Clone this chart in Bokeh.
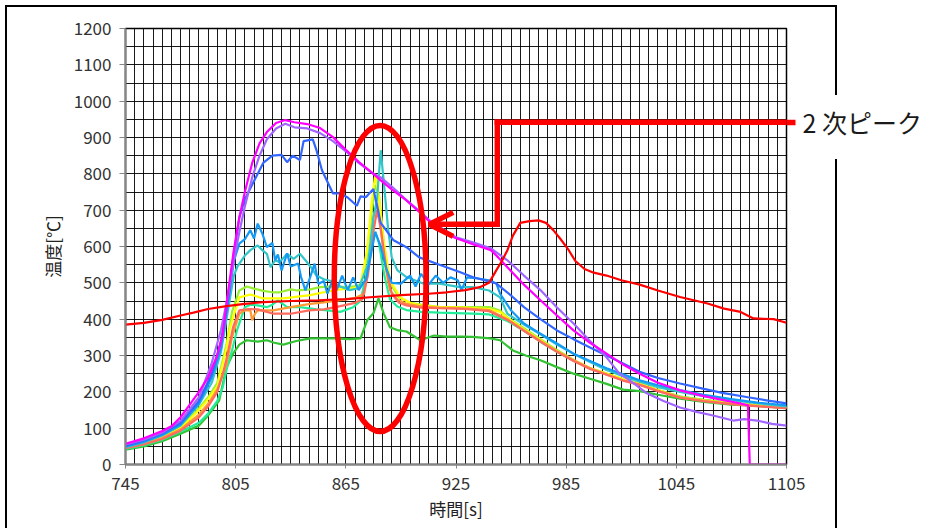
from bokeh.plotting import figure
from bokeh.models import FixedTicker, Arrow, OpenHead, Range1d, LinearAxis, InlineStyleSheet
from bokeh.embed import file_html
from bokeh.resources import INLINE

# ---------------- data (time [s], temperature [°C]) ----------------
red_t = [745,755,765,775,782,790,800,810,820,835,850,865,880,895,910,920,930,938,943,947,950,953,956,960,965,970,974,978,982,986,990,995,1000,1007,1015,1025,1035,1047,1062,1071,1080,1087,1098,1105]
red_v = [385,390,398,410,418,428,436,442,447,450,452,455,461,466,470,474,480,488,500,535,560,590,630,665,670,672,665,645,620,593,560,538,528,520,507,495,479,461,443,429,420,402,400,390]

magenta_t = [745,755,765,770,775,780,785,790,795,798,801,804,807,810,814,818,822,827,832,837,844,851,858,865,872,880,884,890,898,905,911,918,924,935,944,948,953,962,971,980,989,998,1007,1016,1025,1035,1047,1060,1070,1080,1084,1085,1105]
magenta_v = [57,72,92,105,130,165,200,240,300,360,480,590,680,750,830,884,915,940,948,942,937,926,901,866,833,800,782,757,727,695,667,645,625,605,590,570,543,495,452,410,369,335,305,275,250,225,204,188,178,168,163,0,0]

purple_t = [745,755,765,775,785,792,797,801,804,807,810,814,818,822,827,832,837,844,851,858,865,872,880,884,890,898,905,911,918,925,935,944,953,962,971,980,989,998,1007,1014,1020,1029,1038,1047,1056,1065,1076,1082,1089,1097,1105]
purple_v = [55,68,88,120,185,280,370,470,560,640,710,790,850,895,925,938,928,925,912,890,862,830,800,790,765,728,698,670,648,625,610,595,562,520,480,432,388,340,295,250,230,196,175,157,145,135,121,125,121,112,107]

blue_t = [745,755,765,775,785,792,797,801,804,807,810,815,820,825,830,833,836,840,842,847,849,852,858,862,866,871,873,876,880,884,891,898,905,916,927,934,947,955,962,971,980,989,998,1007,1016,1025,1035,1047,1060,1070,1084,1095,1105]
blue_v = [52,66,86,115,175,250,340,460,580,680,730,780,830,850,852,832,850,838,890,895,865,810,746,746,735,712,738,736,758,665,617,598,570,550,530,516,498,465,433,400,369,345,322,300,278,255,238,223,208,197,185,176,168]

lightblue_t = [745,755,765,775,785,792,797,801,804,807,810,813,815,817,819.5,822,825,826.5,828,830,833,835,839,840.6,843,845.6,848,850,853,855,858,860,863,866,869,872,876,878,881,884,887,890,895,900,903,906,910,914,918,922,926,928,931,937,943,947,949,955,962,971,980,989,998,1007,1016,1025,1035,1047,1060,1075,1090,1105]
lightblue_v = [50,63,82,110,168,240,320,450,560,608,620,645,622,663,636,598,610,562,578,534,581,545,553,516,479,516,553,497,505,470,510,480,520,480,515,480,510,560,640,600,540,500,498,520,490,525,495,520,500,515,507,480,515,512,507,498,470,424,388,360,333,305,285,265,248,232,218,205,192,180,170,163]

teal_t = [745,755,765,775,785,792,797,801,804,806,810,813,817,819.5,822,824,826.5,829,833,836.6,840,843,846,849,853,857,862,867,872,877,880,882,884,886,888,890,893,898,907,916,927,934,943,949,953,962,971,980,989,998,1007,1016,1025,1035,1047,1060,1075,1090,1105]
teal_v = [48,61,80,107,165,225,310,430,520,545,575,590,603,590,580,543,562,557,580,566,580,562,543,520,510,505,490,480,485,550,680,730,865,760,650,570,535,516,498,498,488,488,479,460,415,385,358,330,305,282,260,243,228,213,200,188,177,168,160]

ygreen_t = [745,755,765,775,785,790,795,800,803,807,811,815,820,825,829,835,838.5,845.6,851,858,865,870,873,876,879,881,883,886,889,894,900,906,916,930,943.6,949,953,962,971,980,989,998,1007,1016,1025,1035,1047,1060,1075,1090,1105]
ygreen_v = [48,60,78,103,155,185,225,330,420,479,490,484,478,474,474,482,479,482,488,490,488,490,495,560,690,770,740,600,500,460,445,440,433,433,433,424,405,375,345,315,288,265,250,235,222,205,187,178,170,163,157]

yellow_t = [745,755,765,775,785,790,795,800,802,807,813,820,831,845.6,853,862,868,872.7,876.6,879,881,883,885.5,889,894.6,900,905.6,916.6,930,943,949,953,962,971,980,989,998,1007,1016,1025,1035,1047,1060,1075,1090,1105]
yellow_v = [48,58,75,100,150,180,215,320,378,460,468,457,457,466,474,482,485,488,590,720,796,740,617,507,460,445,438,433,432,428,420,403,372,342,312,287,265,250,235,222,205,185,176,168,162,157]

orange_t = [745,755,765,775,785,790,795,800,803,807,810,813,814,815.5,817,825.5,835,845.6,853,862,870,875,878,880,882,884,886,889,893,898,906,916,930,943,953,962,971,980,989,998,1007,1016,1025,1035,1047,1060,1075,1090,1105]
orange_v = [47,57,73,97,137,167,207,275,350,415,425,424,397,415,424,424,433,442,446,452,458,470,570,680,720,650,560,480,455,442,435,432,430,425,400,370,340,312,287,265,248,232,220,203,185,175,167,161,156]

salmon_t = [745,755,765,775,785,790,795,798,800,803.6,807,812,817,825.6,835,845,853,862,870,874,877,880,882,884,887,890,894,898,906,916,930,943,953,962,971,980,989,998,1007,1016,1025,1035,1047,1060,1075,1090,1105]
salmon_v = [45,55,70,93,130,160,200,250,290,378,424,428,427,415,415,424,427,436,445,455,520,640,700,650,540,470,445,438,432,430,428,422,398,368,338,310,285,263,247,231,219,202,184,174,166,160,155]

spring_t = [745,755,765,775,785,790,795,798,800,803,805.7,810,813,817,822,825,828,833,840,849,855,862,869,873,876,879,881,883,886,889,893,898,906,916,934,943,953,962,971,980,989,998,1007,1016,1025,1035,1047,1060,1075,1090,1105]
spring_v = [43,53,68,90,115,140,175,213,260,314,369,433,440,438,433,440,452,433,433,427,424,420,433,450,520,600,640,610,520,455,435,425,420,418,415,413,395,368,338,310,286,265,249,233,221,204,187,177,168,162,157]

green_t = [745,755,765,775,785,790,796,800,803.6,807,811,817,822,826,831,838,845.6,852,858,867,873,876.6,880,882.8,885.6,889,893,898,905.6,913,920,927.6,934,943.6,949,956,963,971,980,989,998,1007,1016,1025,1035,1047,1060,1075,1084,1095,1105]
green_v = [41,50,64,85,107,135,176,268,305,330,342,338,342,335,330,340,347,347,347,345,347,397,416,457,416,378,370,366,342,355,352,352,351,347,342,314,300,287,268,250,236,222,206,202,192,181,172,165,163,159,155]

x_ticks = [745, 805, 865, 925, 985, 1045, 1105]
y_ticks = [0, 100, 200, 300, 400, 500, 600, 700, 800, 900, 1000, 1100, 1200]
x_label = "時間[s]"
y_label = "温度[℃]"
callout_text = "2 次ピーク"

# annotation geometry (data units)
ell_cx, ell_cy, ell_w, ell_h = 883.7, 512, 50, 843
arrow_tip_t, arrow_mid_t, callout_end_t = 910.4, 947.5, 1105
arrow_low_v, callout_v = 661, 942

series = [
    (green_t, green_v, "#33C233"),
    (spring_t, spring_v, "#22EE99"),
    (ygreen_t, ygreen_v, "#99F033"),
    (yellow_t, yellow_v, "#FFFF00"),
    (orange_t, orange_v, "#FF9933"),
    (salmon_t, salmon_v, "#FF6A5E"),
    (teal_t, teal_v, "#33C6C9"),
    (lightblue_t, lightblue_v, "#1499F5"),
    (blue_t, blue_v, "#3366FF"),
    (purple_t, purple_v, "#A066FF"),
    (magenta_t, magenta_v, "#FF00FF"),
    (red_t, red_v, "#FF0000"),
]

FONT = "Noto Sans CJK JP"

p = figure(width=936, height=528, output_backend="svg", toolbar_location=None,
           x_range=Range1d(745, 1105), y_range=Range1d(0, 1200),
           min_border_left=125, min_border_right=150, min_border_top=28, min_border_bottom=64,
           background_fill_color="white", border_fill_color="white")

p.outline_line_color = "black"
p.outline_line_width = 1.5

# grid
p.xgrid.ticker = FixedTicker(ticks=list(range(745, 1106, 5)))
p.ygrid.ticker = FixedTicker(ticks=list(range(0, 1201, 50)))
for g in (p.xgrid, p.ygrid):
    g.grid_line_color = "black"
    g.grid_line_width = 1
    g.grid_line_alpha = 0.9

# axes
p.xaxis.ticker = FixedTicker(ticks=x_ticks)
p.yaxis.ticker = FixedTicker(ticks=y_ticks)
for ax in (p.xaxis, p.yaxis):
    ax.axis_line_color = "#868686"
    ax.axis_line_width = 2
    ax.major_tick_line_color = "#868686"
    ax.major_tick_in = 0
    ax.minor_tick_line_color = None
    ax.major_label_text_font = FONT
    ax.major_label_text_font_size = "17px"
    ax.major_label_text_color = "#333333"
    ax.axis_label_text_font = FONT
    ax.axis_label_text_font_size = "17px"
    ax.axis_label_text_font_style = "normal"
    ax.axis_label_text_color = "#222222"
p.xaxis.major_tick_out = 4
p.yaxis.major_tick_out = 6
p.xaxis.major_label_standoff = 8
p.yaxis.major_label_standoff = 8
p.xaxis.axis_label = x_label
p.yaxis.axis_label = y_label
p.xaxis.axis_label_standoff = 3
p.yaxis.axis_label_standoff = 6

# right-hand axis carrying the callout text; its single tick continues the red leader line
callout_axis = LinearAxis(ticker=FixedTicker(ticks=[callout_v]),
                          major_label_overrides={callout_v: callout_text},
                          axis_line_color=None, minor_tick_line_color=None,
                          major_tick_in=0, major_tick_out=9,
                          major_tick_line_color="#FF0000", major_tick_line_width=5.5,
                          major_label_standoff=7,
                          major_label_text_font=FONT, major_label_text_font_size="25px",
                          major_label_text_color="#1A1A1A")
p.add_layout(callout_axis, "right")

for t, v, c in series:
    p.line(t, v, line_color=c, line_width=2.2)

# ellipse around the secondary peak
p.ellipse(x=[ell_cx], y=[ell_cy], width=[ell_w], height=[ell_h],
          fill_color=None, line_color="#FF0000", line_width=5.5)

# callout leader line with arrow
p.add_layout(Arrow(x_start=callout_end_t, y_start=callout_v, x_end=arrow_mid_t, y_end=callout_v,
                   end=None, line_color="#FF0000", line_width=5.5, line_cap="square"))
p.add_layout(Arrow(x_start=arrow_mid_t, y_start=callout_v, x_end=arrow_mid_t, y_end=arrow_low_v,
                   end=None, line_color="#FF0000", line_width=5.5, line_cap="square"))
p.add_layout(Arrow(x_start=arrow_mid_t, y_start=arrow_low_v, x_end=arrow_tip_t, y_end=arrow_low_v,
                   end=OpenHead(size=24, line_color="#FF0000", line_width=5.5),
                   line_color="#FF0000", line_width=5.5))

# outer chart-object border (drawn in the page, outside the plot frame);
# the right edge is interrupted where the callout text box sits
p.stylesheets = [InlineStyleSheet(css="""
:host { position: relative; }
:host::before {
  content: ""; position: absolute; left: 5px; top: 5px; width: 832px; height: 523px;
  box-sizing: border-box; border-top: 2px solid #000; border-left: 2px solid #000;
  pointer-events: none; z-index: 5;
}
:host::after {
  content: ""; position: absolute; left: 835px; top: 5px; width: 2px; height: 523px;
  background: linear-gradient(to bottom, #000 0px, #000 90px, transparent 90px,
                              transparent 154px, #000 154px, #000 523px);
  pointer-events: none; z-index: 5;
}
""")]

open("out.html", "w").write(file_html(p, INLINE))
